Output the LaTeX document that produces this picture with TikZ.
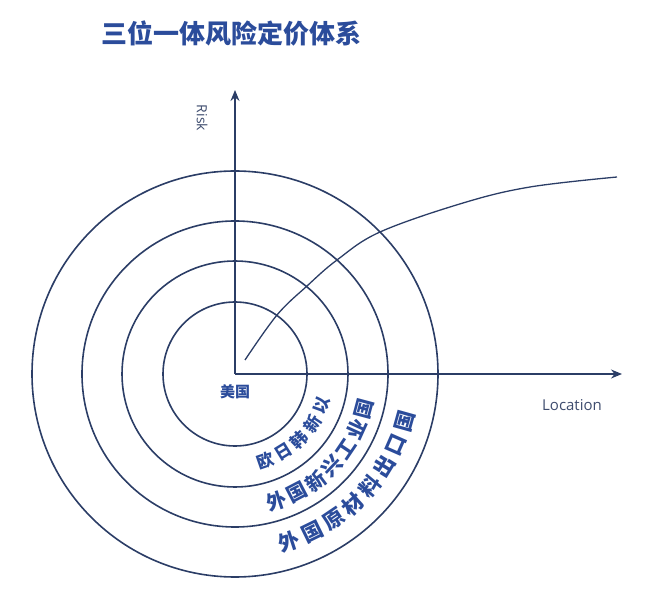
\documentclass[tikz,border=0pt]{standalone}
\usepackage{fontspec}
\setmainfont{Open Sans}
\newfontfamily\cjk{Noto Sans CJK SC}
\usetikzlibrary{arrows.meta}
\definecolor{lineblue}{HTML}{2B3D66}
\definecolor{arrowblue}{HTML}{1F4A94}
\definecolor{textblue}{HTML}{2B4C9B}
\definecolor{labelgray}{HTML}{3E4C6E}
\tikzset{
  ring/.style={draw=lineblue, line width=1.6pt},
  axis/.style={draw=lineblue, line width=1.6pt, -{Stealth[length=11pt,width=9pt,fill=arrowblue]}},
  arcchar/.style={text=textblue, font=\cjk\bfseries, inner sep=0pt},
  axislabel/.style={text=labelgray, inner sep=0pt}
}
\begin{document}
\begin{tikzpicture}[x=1pt,y=1pt]
\useasboundingbox (0,0) rectangle (664,592);
\coordinate (C) at (235,218);
% title
\node[text=textblue, font=\cjk\bfseries\fontsize{26}{29}\selectfont, inner sep=0pt] (title) at (231,559) {三位一体风险定价体系};
% rings
\draw[ring] (C) circle (72);
\draw[ring] (C) circle (113);
\draw[ring] (C) circle (153);
\draw[ring] (C) circle (203);
% curve
\draw[draw=lineblue, line width=1.3pt] plot[smooth, tension=0.6] coordinates {(245,232) (277,277) (307,306) (337,332) (380,360) (463,389) (530,405) (617,415)};
% axes
\coordinate (ytip) at (235,502);
\coordinate (xtip) at (622,218);
\draw[axis] (C) -- (ytip);
\draw[axis] (C) -- (xtip);
\node[axislabel, font=\fontsize{14}{16}\selectfont, rotate=-90] (risk) at (202,474) {Risk};
\node[axislabel, font=\fontsize{15}{17}\selectfont] (loc) at (572,187) {Location};
\node[arcchar, font=\cjk\bfseries\fontsize{15}{17}\selectfont] (us) at (235,200) {美国};
% arc labels
\foreach \ch [count=\i from 0] in {欧,日,韩,新,以} {
  \pgfmathsetmacro\ang{-71+\i*51/4}
  \node[arcchar, font=\cjk\bfseries\fontsize{17}{19}\selectfont, rotate=\ang+90] (a\i) at ([shift={(\ang:92)}]C) {\ch};
}
\foreach \ch [count=\i from 0] in {外,国,新,兴,工,业,国} {
  \pgfmathsetmacro\ang{-72+\i*57/6}
  \node[arcchar, font=\cjk\bfseries\fontsize{20}{22}\selectfont, rotate=\ang+90] (b\i) at ([shift={(\ang:134)}]C) {\ch};
}
\foreach \ch [count=\i from 0] in {外,国,原,材,料,出,口,国} {
  \pgfmathsetmacro\ang{-72+\i*56.4/7}
  \node[arcchar, font=\cjk\bfseries\fontsize{21}{23}\selectfont, rotate=\ang+90] (c\i) at ([shift={(\ang:176)}]C) {\ch};
}
\end{tikzpicture}
\end{document}
